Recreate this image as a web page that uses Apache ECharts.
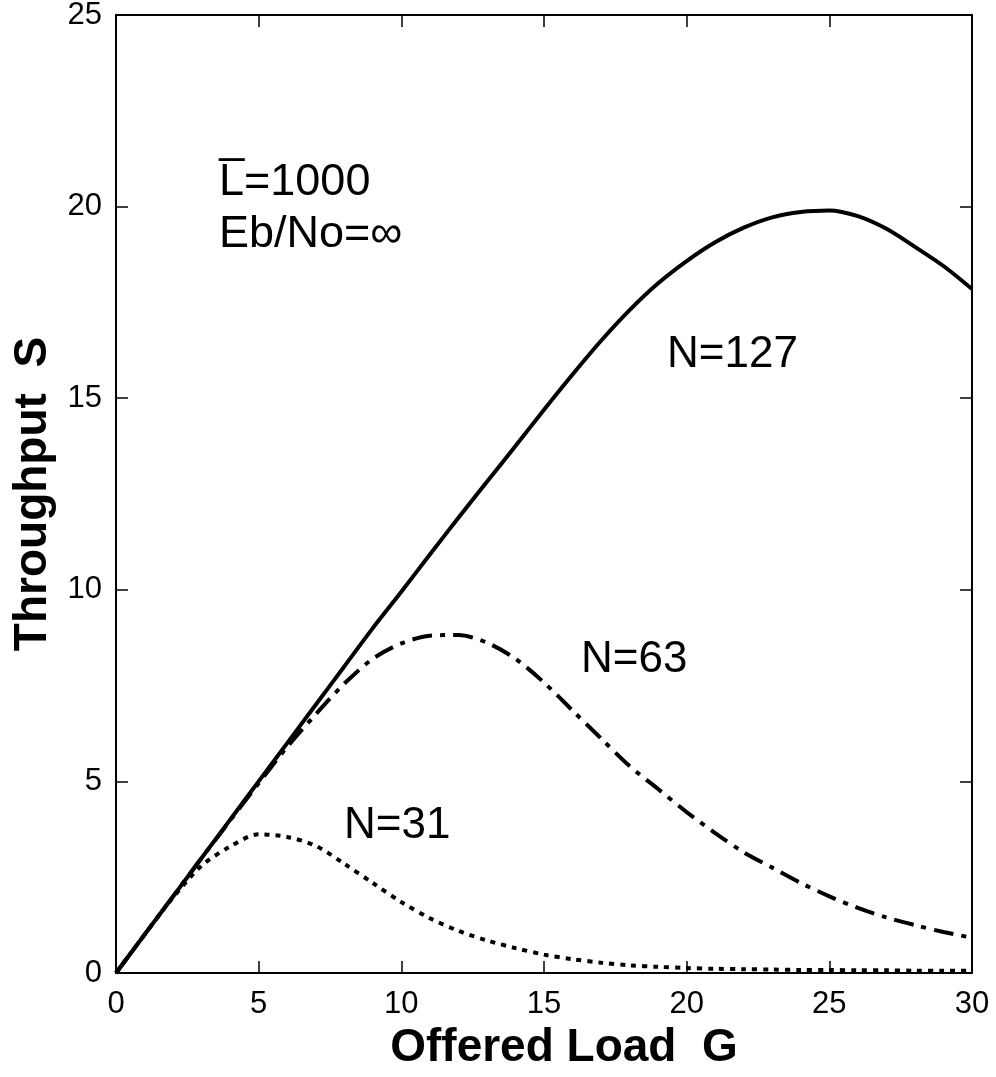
<!DOCTYPE html>
<html>
<head>
<meta charset="utf-8">
<script src="https://cdn.jsdelivr.net/npm/echarts@6/dist/echarts.min.js"></script>
<style>
  html, body { margin: 0; padding: 0; background: #fff; }
  #chart { width: 996px; height: 1077px; }
</style>
</head>
<body>
<div id="chart"></div>
<script>
// offered load G (x values)
const loadG = [0, 1, 2, 3, 4, 5, 6, 7, 8, 9, 10, 11, 12, 13, 14, 15, 16, 17, 18, 19, 20,
  21, 22, 23, 24, 25, 26, 27, 28, 29, 30];

// throughput S for each code length
const sN127 = [0, 1, 2, 3, 4, 5, 6, 7, 8, 9, 9.95, 10.92, 11.88, 12.82, 13.75, 14.7, 15.62,
  16.5, 17.3, 18.0, 18.58, 19.07, 19.45, 19.72, 19.86, 19.9, 19.75, 19.42, 18.95, 18.45, 17.85];
const sN63 = [0, 1, 2, 3, 3.98, 4.95, 5.9, 6.75, 7.55, 8.2, 8.6, 8.8, 8.82, 8.62, 8.2, 7.58,
  6.85, 6.12, 5.4, 4.8, 4.2, 3.65, 3.15, 2.75, 2.35, 2.0, 1.7, 1.45, 1.25, 1.07, 0.92];
const sN31 = [0, 1, 1.97, 2.8, 3.3, 3.62, 3.55, 3.32, 2.85, 2.35, 1.85, 1.43, 1.1, 0.85,
  0.65, 0.48, 0.36, 0.27, 0.2, 0.16, 0.13, 0.11, 0.1, 0.09, 0.08, 0.08, 0.07, 0.07, 0.06,
  0.06, 0.06];

const xTicks = [0, 5, 10, 15, 20, 25, 30];
const yTicks = [0, 5, 10, 15, 20, 25];

const pairs = (ys) => loadG.map((g, i) => [g, ys[i]]);

const chart = echarts.init(document.getElementById("chart"));

const font = "Liberation Sans, Arial, Helvetica, sans-serif";
const axisLine = { show: true, onZero: false, lineStyle: { color: "#000", width: 2 } };
const axisTick = { show: true, inside: true, length: 12, lineStyle: { color: "#000", width: 1.5 } };

const option = {
  backgroundColor: "#fff",
  animation: false,
  grid: { left: 116, top: 15, right: 24, bottom: 104, outerBoundsMode: "none", containLabel: false },
  xAxis: [
    {
      type: "value",
      min: xTicks[0],
      max: xTicks[xTicks.length - 1],
      interval: 5,
      axisLine,
      axisTick,
      splitLine: { show: false },
      axisLabel: { color: "#000", fontSize: 31, fontFamily: font, margin: 16 },
      name: "Offered Load  G",
      nameLocation: "middle",
      nameGap: 48,
      nameTextStyle: {
        color: "#000",
        fontSize: 46,
        fontWeight: "bold",
        fontFamily: font,
        padding: [0, 0, 0, 40],
      },
    },
    {
      type: "value",
      position: "top",
      min: 0,
      max: 30,
      interval: 5,
      axisLine,
      axisTick,
      axisLabel: { show: false },
      splitLine: { show: false },
    },
  ],
  yAxis: [
    {
      type: "value",
      min: yTicks[0],
      max: yTicks[yTicks.length - 1],
      interval: 5,
      axisLine,
      axisTick,
      splitLine: { show: false },
      axisLabel: { color: "#000", fontSize: 31, fontFamily: font, margin: 14 },
      name: "Throughput  S",
      nameLocation: "middle",
      nameGap: 58,
      nameRotate: 90,
      nameTextStyle: { color: "#000", fontSize: 46, fontWeight: "bold", fontFamily: font },
    },
    {
      type: "value",
      position: "right",
      min: 0,
      max: 25,
      interval: 5,
      axisLine,
      axisTick,
      axisLabel: { show: false },
      splitLine: { show: false },
    },
  ],
  series: [
    {
      name: "N=127",
      type: "line",
      data: pairs(sN127),
      smooth: 0.3,
      showSymbol: false,
      lineStyle: { color: "#000", width: 4 },
      z: 3,
    },
    {
      name: "N=63",
      type: "line",
      data: pairs(sN63),
      smooth: 0.3,
      showSymbol: false,
      lineStyle: { color: "#000", width: 4, type: [20, 8, 5, 8], cap: "butt" },
      z: 2,
    },
    {
      name: "N=31",
      type: "line",
      data: pairs(sN31),
      smooth: 0.3,
      showSymbol: false,
      lineStyle: { color: "#000", width: 4, type: [5, 6], cap: "butt" },
      z: 2,
    },
  ],
  graphic: [
    { type: "text", left: 219, top: 160, style: { text: "L\u0305=1000", font: "45px " + font, fill: "#000" } },
    { type: "text", left: 219, top: 212, style: { text: "Eb/No=\u221e", font: "45px " + font, fill: "#000" } },
    { type: "text", left: 667, top: 333, style: { text: "N=127", font: "44px " + font, fill: "#000" } },
    { type: "text", left: 581, top: 638, style: { text: "N=63", font: "44px " + font, fill: "#000" } },
    { type: "text", left: 344, top: 804, style: { text: "N=31", font: "44px " + font, fill: "#000" } },
  ],
};

chart.setOption(option);
</script>
</body>
</html>
